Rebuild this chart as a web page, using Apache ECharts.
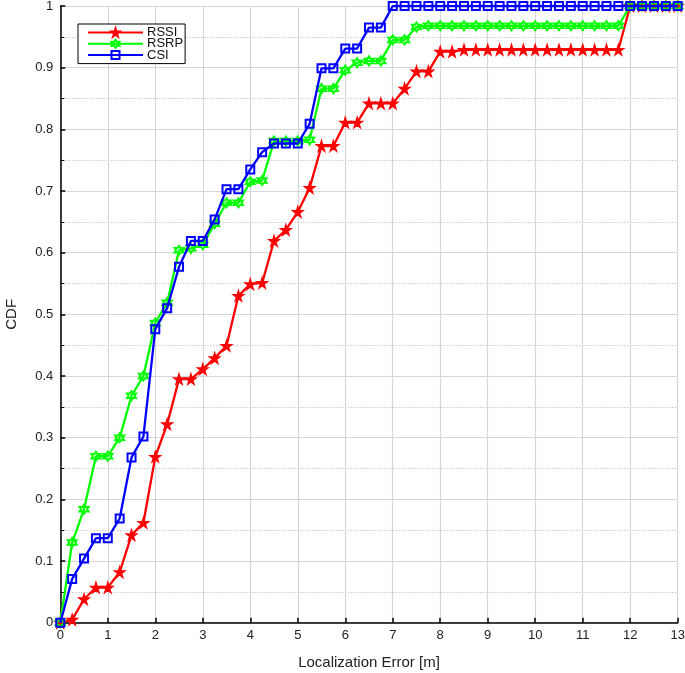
<!DOCTYPE html>
<html>
<head>
<meta charset="utf-8">
<script src="https://cdn.jsdelivr.net/npm/echarts@6/dist/echarts.min.js"></script>
<style>html,body{margin:0;padding:0;background:#fff;}#c{width:685px;height:673px;}</style>
</head>
<body>
<div id="c"></div>
<script>
const xs = [0,0.25,0.5,0.75,1,1.25,1.5,1.75,2,2.25,2.5,2.75,3,3.25,3.5,3.75,4,4.25,4.5,4.75,5,5.25,5.5,5.75,6,6.25,6.5,6.75,7,7.25,7.5,7.75,8,8.25,8.5,8.75,9,9.25,9.5,9.75,10,10.25,10.5,10.75,11,11.25,11.5,11.75,12,12.25,12.5,12.75,13];
const rssi = [0,0.005,0.038,0.057,0.057,0.082,0.142,0.162,0.269,0.322,0.395,0.395,0.411,0.429,0.449,0.530,0.549,0.551,0.619,0.637,0.666,0.705,0.773,0.773,0.811,0.811,0.842,0.842,0.842,0.866,0.894,0.894,0.926,0.926,0.929,0.929,0.929,0.929,0.929,0.929,0.929,0.929,0.929,0.929,0.929,0.929,0.929,0.929,1,1,1,1,1];
const rsrp = [0,0.130,0.184,0.270,0.270,0.300,0.368,0.400,0.486,0.519,0.604,0.607,0.613,0.647,0.681,0.681,0.715,0.717,0.781,0.781,0.781,0.783,0.866,0.866,0.896,0.908,0.911,0.911,0.945,0.945,0.966,0.968,0.968,0.968,0.968,0.968,0.968,0.968,0.968,0.968,0.968,0.968,0.968,0.968,0.968,0.968,0.968,0.968,1,1,1,1,1];
const csi = [0,0.071,0.104,0.137,0.137,0.169,0.268,0.302,0.476,0.510,0.577,0.619,0.619,0.654,0.703,0.703,0.735,0.763,0.777,0.777,0.777,0.809,0.899,0.899,0.931,0.931,0.965,0.965,1,1,1,1,1,1,1,1,1,1,1,1,1,1,1,1,1,1,1,1,1,1,1,1,1];
const seriesNames = ['RSSI','RSRP','CSI'];
const xTicks = [0,1,2,3,4,5,6,7,8,9,10,11,12,13];

const starPath = 'path://M50,0 L61,35 L98,35 L68,57 L79,91 L50,70 L21,91 L32,57 L2,35 L39,35 Z';
const hexPath = 'path://M50,0 L64.43,25 L93.3,25 L78.87,50 L93.3,75 L64.43,75 L50,100 L35.57,75 L6.7,75 L21.13,50 L6.7,25 L35.57,25 Z';
const font = '"Liberation Sans", Arial, Helvetica, sans-serif';

function pairs(ys){ return xs.map((x,i)=>[x, ys[i]]); }

const chart = echarts.init(document.getElementById('c'));
chart.setOption({
  animation: false,
  backgroundColor: '#fff',
  textStyle: { fontFamily: font },
  grid: { left: 60.3, right: 7.3, top: 6, bottom: 50.3, containLabel: false, outerBoundsMode: 'none' },
  legend: {
    orient: 'vertical',
    left: 78, top: 24,
    padding: [2, 2, 2, 9],
    itemGap: -1.7,
    itemWidth: 55,
    itemHeight: 10,
    borderColor: '#000',
    borderWidth: 1,
    backgroundColor: '#fff',
    textStyle: { fontFamily: font, fontSize: 13, color: '#111', padding: [0,0,0,-1] },
    data: seriesNames
  },
  xAxis: {
    type: 'value', min: 0, max: 13, interval: 1,
    name: 'Localization Error [m]', nameLocation: 'middle', nameGap: 33,
    nameTextStyle: { fontFamily: font, fontSize: 15, color: '#222' },
    axisLine: { show: true, onZero: false, lineStyle: { color: '#000', width: 1.5 } },
    axisTick: { show: true, inside: true, length: 5, lineStyle: { color: '#000', width: 1.5 } },
    axisLabel: { fontFamily: font, fontSize: 13, color: '#222', margin: 6,
      formatter: v => xTicks.indexOf(v) >= 0 ? String(v) : '' },
    splitLine: { show: true, lineStyle: { color: '#d6d6d6', width: 1.2 } }
  },
  yAxis: {
    type: 'value', min: 0, max: 1, interval: 0.1,
    name: 'CDF', nameLocation: 'middle', nameGap: 41, nameRotate: 90,
    nameTextStyle: { fontFamily: font, fontSize: 15, color: '#222' },
    axisLine: { show: true, onZero: false, lineStyle: { color: '#000', width: 1.5 } },
    axisTick: { show: true, inside: true, length: 5, lineStyle: { color: '#000', width: 1.5 } },
    minorTick: { show: true, splitNumber: 2, length: 4, lineStyle: { color: '#000', width: 1 } },
    minorSplitLine: { show: true, lineStyle: { color: '#b4b4b4', width: 1, type: [1, 2] } },
    axisLabel: { fontFamily: font, fontSize: 13, color: '#222', margin: 7,
      formatter: v => String(Math.round(v * 10) / 10) },
    splitLine: { show: true, lineStyle: { color: '#d6d6d6', width: 1.2 } }
  },
  series: [
    { name: 'RSSI', type: 'line', data: pairs(rssi), symbol: starPath, symbolSize: 10,
      lineStyle: { color: '#ff0000', width: 2.3 },
      itemStyle: { color: '#ff0000', borderColor: '#ff0000', borderWidth: 1.5 }, z: 2 },
    { name: 'RSRP', type: 'line', data: pairs(rsrp), symbol: hexPath, symbolSize: 9,
      lineStyle: { color: '#00ff00', width: 2.3 },
      itemStyle: { color: 'rgba(255,255,255,0)', borderColor: '#00ff00', borderWidth: 2 }, z: 3 },
    { name: 'CSI', type: 'line', data: pairs(csi), symbol: 'rect', symbolSize: 8,
      lineStyle: { color: '#0000ff', width: 2.3 },
      itemStyle: { color: 'rgba(255,255,255,0)', borderColor: '#0000ff', borderWidth: 2 }, z: 4 }
  ]
});
</script>
</body>
</html>
